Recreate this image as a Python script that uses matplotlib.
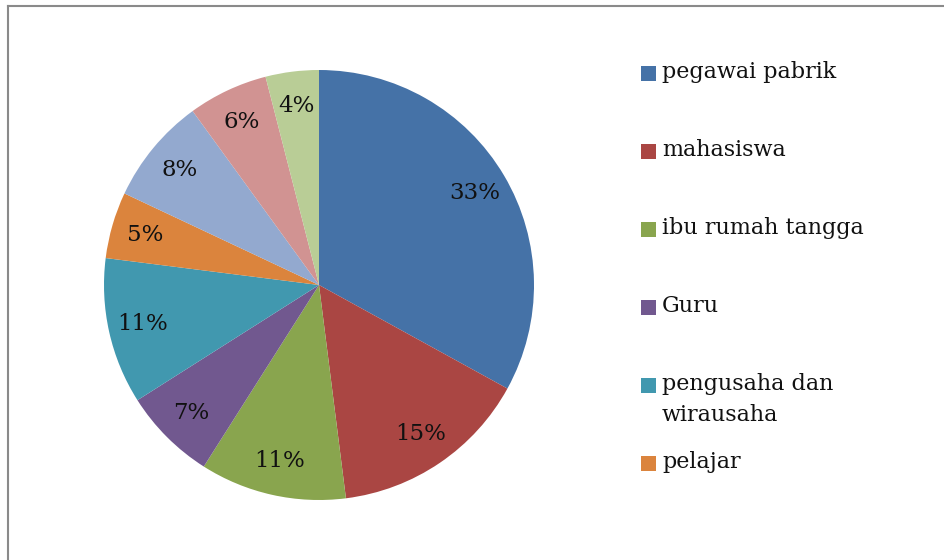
import matplotlib.pyplot as plt
from matplotlib.lines import Line2D
from matplotlib.patches import Rectangle

# Slice values (percent), clockwise from 12 o'clock
values = [33, 15, 11, 7, 11, 5, 8, 6, 4]
colors = ['#4572A7', '#AA4643', '#89A54E', '#71588F', '#4198AF',
          '#DB843D', '#93A9CF', '#D19392', '#B9CD96']
# Only the first six legend entries are visible in the chart
legend_labels = ['pegawai pabrik', 'mahasiswa', 'ibu rumah tangga', 'Guru',
                 'pengusaha dan\nwirausaha', 'pelajar']

plt.rcParams['font.family'] = ['DejaVu Serif']

W, H = 944, 560
fig = plt.figure(figsize=(W / 100, H / 100), dpi=100)

# pie axes: centre (319, 285) px, radius 215 px
cx, cy, r = 319, 285, 215
ax = fig.add_axes([(cx - r) / W, (H - cy - r) / H, 2 * r / W, 2 * r / H])
ax.pie(values, colors=colors, startangle=90, counterclock=False,
       autopct='%1.0f%%', pctdistance=0.84,
       textprops={'fontsize': 16.5, 'color': '#111111'},
       wedgeprops={'linewidth': 0})
ax.set_xlim(-1, 1)
ax.set_ylim(-1, 1)
ax.set_aspect('equal')

# legend drawn entry by entry (first line of each entry on a fixed grid)
for i, name in enumerate(legend_labels):
    ypx = 74 + 78 * i
    fig.patches.append(Rectangle((641 / W, 1 - (ypx + 7) / H), 15 / W, 15 / H,
                                 transform=fig.transFigure, facecolor=colors[i],
                                 edgecolor='none'))
    fig.text(662 / W, 1 - (ypx - 13) / H, name, fontsize=16, color='#111111',
             va='top', ha='left', linespacing=1.55)

# chart border (runs off the right and bottom edges)
fig.lines.append(Line2D([8 / W, 8 / W], [0, 1 - 6 / H], transform=fig.transFigure,
                        color='#8a8a8a', linewidth=1.5))
fig.lines.append(Line2D([8 / W, 1], [1 - 6 / H, 1 - 6 / H], transform=fig.transFigure,
                        color='#8a8a8a', linewidth=1.5))

plt.savefig('out.png', dpi=100)
